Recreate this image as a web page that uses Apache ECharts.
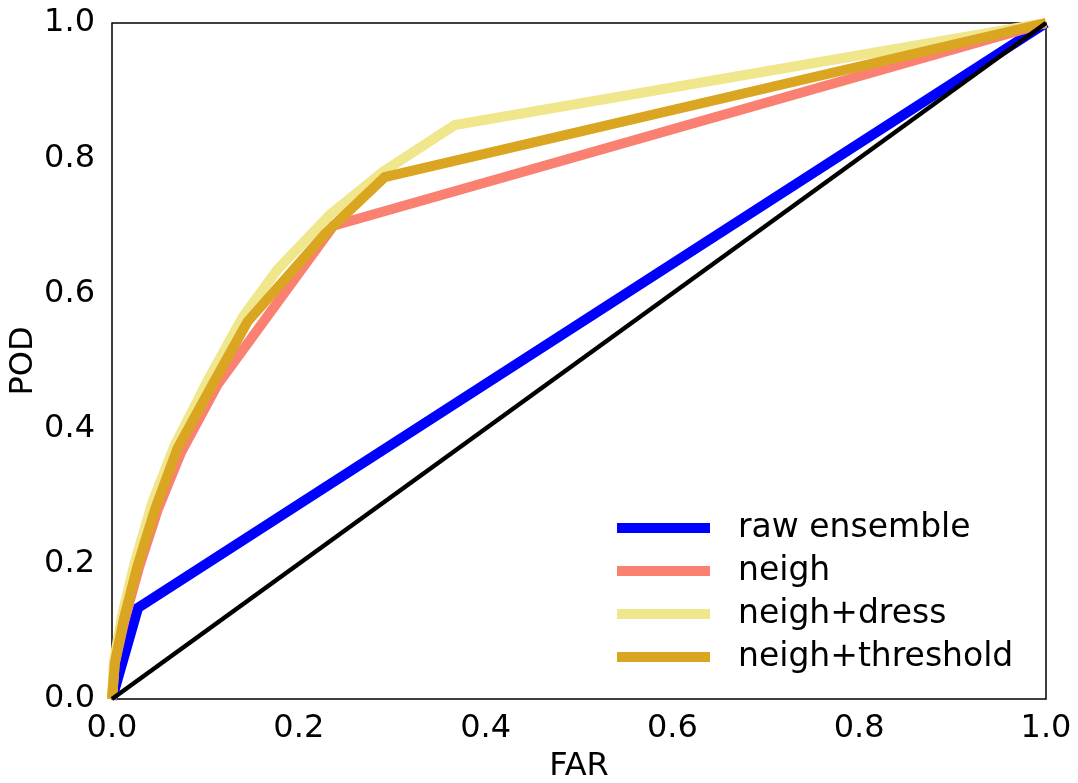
<!DOCTYPE html>
<html>
<head>
<meta charset="utf-8">
<script src="https://cdn.jsdelivr.net/npm/echarts@6/dist/echarts.min.js"></script>
<style>
html,body{margin:0;padding:0;background:#fff;}
#main{width:1078px;height:783px;}
</style>
</head>
<body>
<div id="main"></div>
<script>
// ROC-style curves, [FAR, POD]
var rawEnsemble = [[0, 0], [0.028, 0.135], [1, 1]];
var neigh = [[0, 0], [0.003, 0.053], [0.014, 0.12], [0.029, 0.195], [0.049, 0.28], [0.074, 0.365], [0.113, 0.465], [0.237, 0.70], [1, 1]];
var neighDress = [[0, 0], [0.002, 0.055], [0.011, 0.125], [0.024, 0.2], [0.043, 0.29], [0.067, 0.375], [0.104, 0.475], [0.14, 0.565], [0.177, 0.635], [0.233, 0.716], [0.29, 0.78], [0.367, 0.849], [1, 1]];
var neighThreshold = [[0, 0], [0.003, 0.053], [0.013, 0.12], [0.027, 0.195], [0.046, 0.28], [0.07, 0.37], [0.108, 0.466], [0.145, 0.558], [0.228, 0.688], [0.292, 0.772], [1, 1]];
var diagonal = [[0, 0], [1, 1]];
var tickLabels = ["0.0", "0.2", "0.4", "0.6", "0.8", "1.0"];

window.onload = function () {
    var Mychart = echarts.init(document.getElementById("main"));
    var font = "DejaVu Sans";
    function line(name, data, color, width, z) {
        return {
            name: name,
            type: "line",
            data: data,
            symbol: "none",
            z: z,
            lineStyle: {color: color, width: width, join: "miter"},
            itemStyle: {color: color},
            emphasis: {disabled: true}
        };
    }
    var option = {
        animation: false,
        grid: {left: 112, right: 32, top: 23, bottom: 84, outerBoundsMode: "none", containLabel: false,
            show: true, borderColor: "#000", borderWidth: 1.5},
        legend: {
            orient: "vertical",
            left: 612,
            top: 506,
            itemWidth: 93,
            itemHeight: 10,
            itemGap: 9,
            icon: "rect",
            data: ["raw ensemble", "neigh", "neigh+dress", "neigh+threshold"],
            textStyle: {fontFamily: font, fontSize: 33, color: "#000", lineHeight: 34, padding: [0, 0, 0, 23]}
        },
        xAxis: {
            type: "value", min: 0, max: 1, interval: 0.2,
            name: "FAR", nameLocation: "middle", nameGap: 52, nameMoveOverlap: false,
            nameTextStyle: {fontFamily: font, fontSize: 32, color: "#000"},
            axisLine: {show: false}, axisTick: {show: false}, splitLine: {show: false},
            axisLabel: {fontFamily: font, fontSize: 32, color: "#000", margin: 14,
                formatter: function (v) { return tickLabels[Math.round(v * 5)]; }}
        },
        yAxis: {
            type: "value", min: 0, max: 1, interval: 0.2,
            name: "POD", nameLocation: "middle", nameGap: 72, nameMoveOverlap: false,
            nameTextStyle: {fontFamily: font, fontSize: 32, color: "#000"},
            axisLine: {show: false}, axisTick: {show: false}, splitLine: {show: false},
            axisLabel: {fontFamily: font, fontSize: 32, color: "#000", margin: 17,
                formatter: function (v) { return tickLabels[Math.round(v * 5)]; }}
        },
        series: [
            line("raw ensemble", rawEnsemble, "#0000ff", 10, 2),
            line("neigh", neigh, "#fa8072", 10, 3),
            line("neigh+dress", neighDress, "#f0e68c", 10, 4),
            line("neigh+threshold", neighThreshold, "#daa520", 10, 5),
            line("diagonal", diagonal, "#000000", 4.5, 6)
        ]
    };
    Mychart.setOption(option);
};
</script>
</body>
</html>
